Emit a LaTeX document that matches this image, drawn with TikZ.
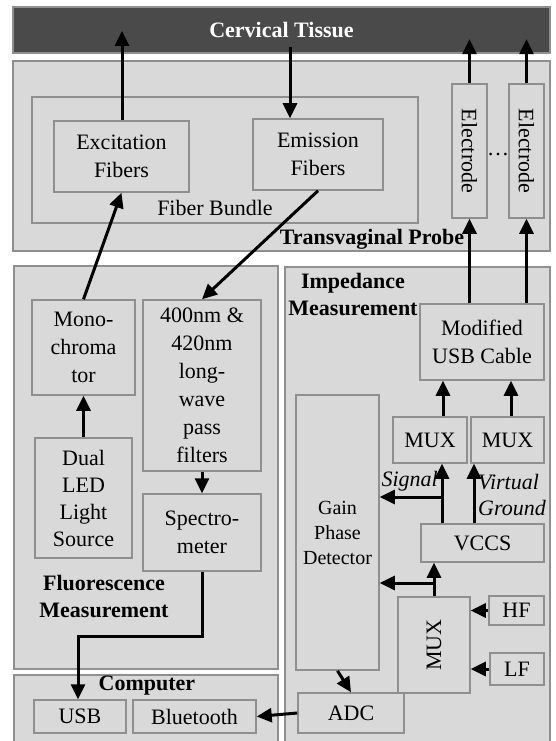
\documentclass[tikz,border=0pt]{standalone}
\usepackage{fontspec}
\setmainfont{Liberation Serif}
\usetikzlibrary{arrows.meta, positioning}
\definecolor{panelfill}{HTML}{D9D9D9}
\definecolor{edgegray}{HTML}{8F8F8F}
\definecolor{tissuefill}{HTML}{4A4A4A}

\begin{document}
\begin{tikzpicture}[
  x=1pt, y=-1pt,
  panel/.style={draw=edgegray, line width=1.5pt, fill=panelfill, inner sep=0pt},
  blk/.style={draw=edgegray, line width=1.5pt, fill=panelfill, inner sep=0pt, align=center, font=\fontsize{22}{28}\selectfont},
  tissue/.style={draw=edgegray, line width=1.5pt, fill=tissuefill, text=white, font=\fontsize{22}{26}\selectfont\bfseries},
  lbl/.style={align=center, inner sep=0pt, font=\fontsize{22}{27}\selectfont\bfseries},
  note/.style={align=left, inner sep=0pt, font=\fontsize{22}{26}\selectfont\itshape},
  arrow/.style={-{Triangle[length=15pt, width=14pt]}, line width=3pt}
]
  \clip (0,0) rectangle (556,741);
  \fill[white] (0,0) rectangle (556,741);

  \node[tissue, minimum width=537, minimum height=46] (tissue) at (281.5,30) {Cervical Tissue};

  % probe
  \node[panel, minimum width=537, minimum height=190] (probe) at (281.5,156) {};
  \node[panel, minimum width=386, minimum height=126] (bundle) at (225,160) {};
  \node[blk, minimum width=135, minimum height=71] (excit) at (121.5,156.5) {Excitation\\Fibers};
  \node[blk, minimum width=130, minimum height=71] (emis) at (318,154.5) {Emission\\Fibers};
  \node[blk, rotate=-90, minimum width=134, minimum height=35] (elecA) at (469.5,151) {Electrode};
  \node[blk, rotate=-90, minimum width=134, minimum height=35] (elecB) at (526.5,151) {Electrode};
  \node[inner sep=0pt, font=\fontsize{22}{26}\selectfont] (dots) at (498,155) {\dots};
  \node[lbl, font=\fontsize{22}{26}\selectfont] (bundleLbl) at (215,208) {Fiber Bundle};
  \node[lbl] (probeLbl) at (372,239) {Transvaginal Probe};

  % fluorescence
  \node[panel, minimum width=264, minimum height=403] (fluor) at (146,467.5) {};
  \node[blk, minimum width=103, minimum height=95] (mono) at (83.5,347.5) {Mono-\\chroma\\tor};
  \node[blk, minimum width=118, minimum height=171] (filt) at (202,385.5) {400nm \&\\420nm\\long-\\wave\\pass\\filters};
  \node[blk, minimum width=97, minimum height=120, font=\fontsize{22}{27}\selectfont] (led) at (83.5,498) {Dual\\LED\\Light\\Source};
  \node[blk, minimum width=118, minimum height=77] (spec) at (202,532.5) {Spectro-\\meter};
  \node[lbl] (fluorLbl) at (104,596) {Fluorescence\\Measurement};

  % computer
  \node[panel, minimum width=264, minimum height=85] (comp) at (146,717.5) {};
  \node[lbl] (compLbl) at (147,686) {Computer};
  \node[blk, minimum width=92, minimum height=33] (usb) at (80,716.5) {USB};
  \node[blk, minimum width=123, minimum height=33] (bt) at (194.5,716.5) {Bluetooth};

  % impedance
  \node[panel, minimum width=265, minimum height=493] (imp) at (417.5,513.5) {};
  \node[lbl] (impLbl) at (353,294) {Impedance\\Measurement};
  \node[blk, minimum width=124, minimum height=76] (cable) at (482,342) {Modified\\USB Cable};
  \node[blk, minimum width=74, minimum height=46] (muxA) at (430,440) {MUX};
  \node[blk, minimum width=73, minimum height=46] (muxB) at (507.5,440) {MUX};
  \node[blk, minimum width=83, minimum height=275, font=\fontsize{20}{25}\selectfont] (gpd) at (337.5,532.5) {Gain\\Phase\\Detector};
  \node[blk, minimum width=123, minimum height=38] (vccs) at (482.5,543) {VCCS};
  \node[blk, rotate=90, minimum width=96, minimum height=72] (muxC) at (434,645) {MUX};
  \node[blk, minimum width=55, minimum height=29] (hf) at (516.5,610.5) {HF};
  \node[blk, minimum width=54, minimum height=32] (lf) at (517,669) {LF};
  \node[blk, minimum width=106, minimum height=40] (adc) at (351,713) {ADC};
  \node[note, anchor=east] (sigLbl) at (438,481) {Signal};
  \node[note, anchor=west] (vgLbl) at (478,495) {Virtual\\Ground};

  \coordinate (exTip) at (122,31);
  \coordinate (emSrc) at (290,47);
  \coordinate (sigJoin) at (442,497);
  \coordinate (vgJoin) at (474,497);
  \coordinate (muxJoin) at (434,583);

  \draw[arrow] (excit.north -| exTip) -- (exTip);
  \draw[arrow] (emSrc) -- (emSrc |- emis.north);
  \draw[arrow] (elecA.west) -- ++(0,-44);
  \draw[arrow] (elecB.west) -- ++(0,-44);
  \draw[arrow] (mono.north) -- (excit.south);
  \draw[arrow] (emis.south) -- (filt.north);
  \draw[arrow] (led.north) -- (mono.south);
  \draw[arrow] (filt.south) -- (spec.north);
  \draw[arrow] (spec.south) -- ++(0,65) -| ([xshift=-2pt]usb.north);
  \draw[arrow] (cable.north -| elecA.west) -- (elecA.east);
  \draw[arrow] (cable.north -| elecB.west) -- (elecB.east);
  \draw[arrow] ([xshift=13pt]muxA.north) -- ([xshift=13pt]muxA.north |- cable.south);
  \draw[arrow] ([xshift=3.5pt]muxB.north) -- ([xshift=3.5pt]muxB.north |- cable.south);
  \draw[arrow] (vccs.north -| sigJoin) -- (muxA.south -| sigJoin);
  \draw[arrow] (sigJoin) -- (sigJoin -| gpd.east);
  \draw[arrow] (vccs.north -| vgJoin) -- (muxB.south -| vgJoin);
  \draw[arrow] (muxC.east) -- (vccs.south -| muxC.east);
  \draw[arrow] (muxJoin) -- (muxJoin -| gpd.east);
  \draw[arrow] (hf.west) -- (hf.west -| muxC.south);
  \draw[arrow] (lf.west) -- (lf.west -| muxC.south);
  \draw[arrow] (gpd.south) -- (adc.north);
  \draw[arrow] (adc.west) -- (bt.east);
\end{tikzpicture}
\end{document}
